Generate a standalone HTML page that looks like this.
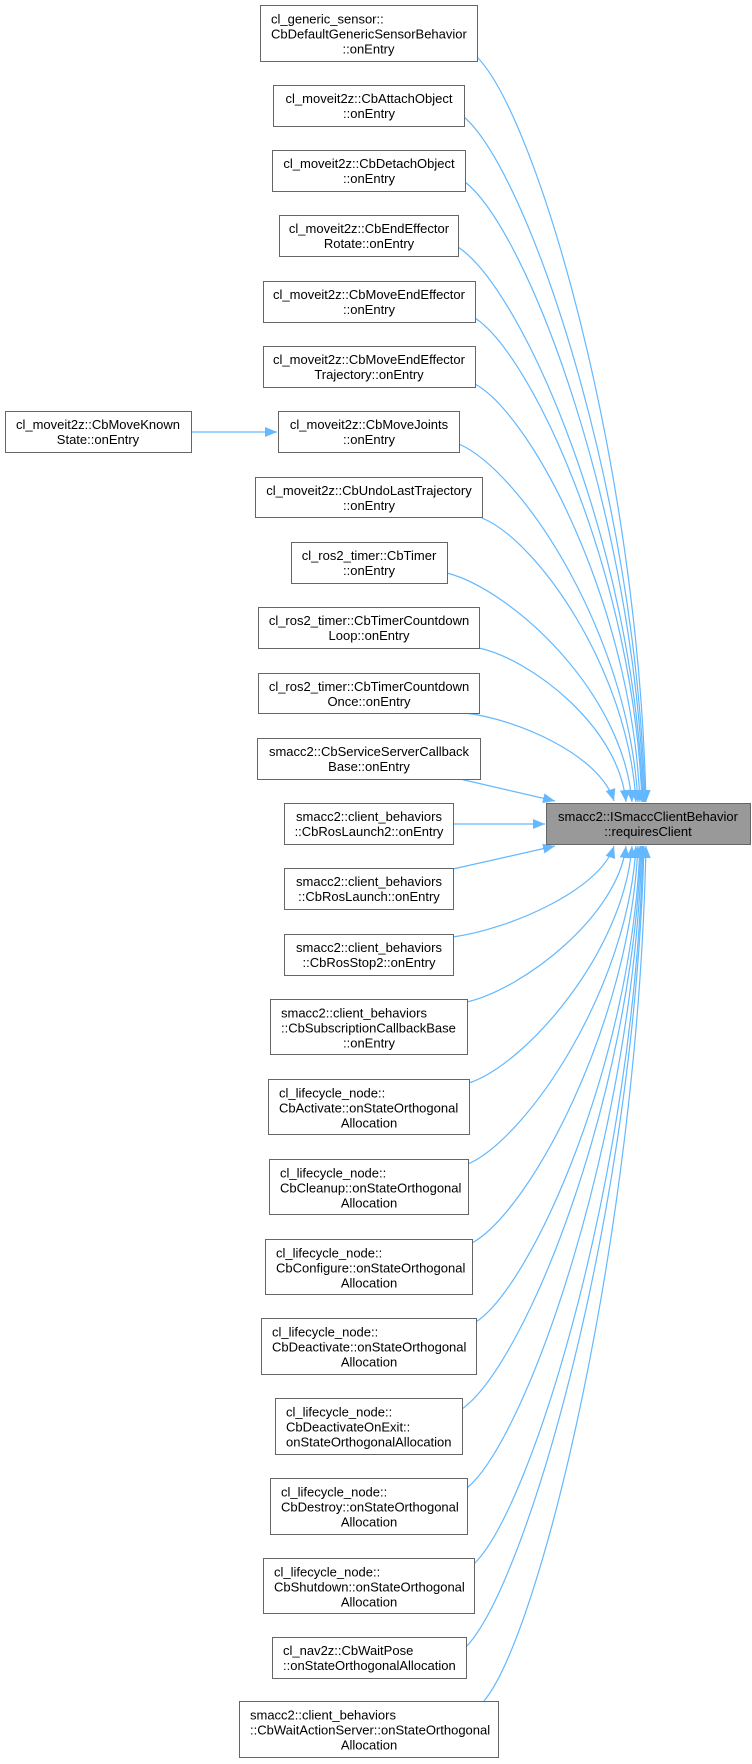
<!DOCTYPE html>
<html><head><meta charset="utf-8"><style>
html,body{margin:0;padding:0;background:#fff;}
svg{display:block;}
text{font-family:"Liberation Sans",Arial,sans-serif;font-size:13px;fill:#000;}
.b{fill:#fff;stroke:#666;stroke-width:1;}
.e{fill:none;stroke:#63b8ff;stroke-width:1.2;}
</style></head><body>
<svg width="752" height="1764" viewBox="0 0 752 1764" xmlns="http://www.w3.org/2000/svg">
<defs><marker id="a" markerUnits="userSpaceOnUse" markerWidth="13" markerHeight="11" refX="12" refY="5" orient="auto"><path d="M0,0 L12,5 L0,10 z" fill="#63b8ff"/></marker></defs>
<g class="edges">
<path class="e" marker-end="url(#a)" d="M477 57 C536 116 638 460 646 802"/>
<path class="e" marker-end="url(#a)" d="M464 117 C527 171 636 487 645 802"/>
<path class="e" marker-end="url(#a)" d="M465 182 C528 231 635 516 644 802"/>
<path class="e" marker-end="url(#a)" d="M458 247 C523 290 634 546 643 802"/>
<path class="e" marker-end="url(#a)" d="M475 318 C533 356 634 578 642 802"/>
<path class="e" marker-end="url(#a)" d="M475 384 C533 416 632 607 640 802"/>
<path class="e" marker-end="url(#a)" d="M459 444 C522 472 629 634 638 802"/>
<path class="e" marker-end="url(#a)" d="M482 518 C536 540 628 668 636 802"/>
<path class="e" marker-end="url(#a)" d="M447 573 C512 590 623 692 632 802"/>
<path class="e" marker-end="url(#a)" d="M479 648 C530 659 619 726 626 802"/>
<path class="e" marker-end="url(#a)" d="M465 713 C517 719 600 755 614 801"/>
<path class="e" marker-end="url(#a)" d="M460 779 L555 801"/>
<path class="e" marker-end="url(#a)" d="M453 824 L545 824"/>
<path class="e" marker-end="url(#a)" d="M453 869 L555 846"/>
<path class="e" marker-end="url(#a)" d="M453 937 C510 929 600 890 614 846"/>
<path class="e" marker-end="url(#a)" d="M467 1002 C523 989 618 916 626 846"/>
<path class="e" marker-end="url(#a)" d="M469 1083 C526 1064 624 952 632 846"/>
<path class="e" marker-end="url(#a)" d="M468 1164 C527 1138 628 989 636 846"/>
<path class="e" marker-end="url(#a)" d="M472 1243 C530 1211 630 1024 638 846"/>
<path class="e" marker-end="url(#a)" d="M476 1322 C533 1284 632 1060 640 846"/>
<path class="e" marker-end="url(#a)" d="M462 1409 C525 1364 632 1099 641 846"/>
<path class="e" marker-end="url(#a)" d="M467 1488 C528 1437 633 1134 642 846"/>
<path class="e" marker-end="url(#a)" d="M474 1564 C533 1506 635 1169 643 846"/>
<path class="e" marker-end="url(#a)" d="M466 1647 C528 1582 635 1206 644 846"/>
<path class="e" marker-end="url(#a)" d="M484 1701 C541 1632 638 1230 646 846"/>
<path class="e" marker-end="url(#a)" d="M191 432 L277 432"/>
</g>

<!-- boxes -->
<rect class="b" x="260.5" y="5.5" width="217" height="56"/>
<text x="271" y="23.5">cl_generic_sensor::</text>
<text x="271" y="38.5">CbDefaultGenericSensorBehavior</text>
<text x="368.5" y="53.5" text-anchor="middle">::onEntry</text>

<rect class="b" x="273.5" y="85.5" width="191" height="41"/>
<text x="369" y="103" text-anchor="middle">cl_moveit2z::CbAttachObject</text>
<text x="369" y="118" text-anchor="middle">::onEntry</text>

<rect class="b" x="272.5" y="150.5" width="193" height="41"/>
<text x="369" y="168" text-anchor="middle">cl_moveit2z::CbDetachObject</text>
<text x="369" y="183" text-anchor="middle">::onEntry</text>

<rect class="b" x="279.5" y="215.5" width="179" height="41"/>
<text x="369" y="233" text-anchor="middle">cl_moveit2z::CbEndEffector</text>
<text x="369" y="248" text-anchor="middle">Rotate::onEntry</text>

<rect class="b" x="263.5" y="281.5" width="212" height="41"/>
<text x="369" y="299" text-anchor="middle">cl_moveit2z::CbMoveEndEffector</text>
<text x="369" y="314" text-anchor="middle">::onEntry</text>

<rect class="b" x="263.5" y="346.5" width="212" height="41"/>
<text x="369" y="364" text-anchor="middle">cl_moveit2z::CbMoveEndEffector</text>
<text x="369" y="379" text-anchor="middle">Trajectory::onEntry</text>

<rect class="b" x="5.5" y="411.5" width="186" height="41"/>
<text x="98" y="429" text-anchor="middle">cl_moveit2z::CbMoveKnown</text>
<text x="98" y="444" text-anchor="middle">State::onEntry</text>

<rect class="b" x="278.5" y="411.5" width="181" height="41"/>
<text x="369" y="429" text-anchor="middle">cl_moveit2z::CbMoveJoints</text>
<text x="369" y="444" text-anchor="middle">::onEntry</text>

<rect class="b" x="255.5" y="477.5" width="227" height="40"/>
<text x="369" y="495" text-anchor="middle">cl_moveit2z::CbUndoLastTrajectory</text>
<text x="369" y="510" text-anchor="middle">::onEntry</text>

<rect class="b" x="291.5" y="542.5" width="156" height="41"/>
<text x="369" y="560" text-anchor="middle">cl_ros2_timer::CbTimer</text>
<text x="369" y="575" text-anchor="middle">::onEntry</text>

<rect class="b" x="258.5" y="607.5" width="221" height="41"/>
<text x="369" y="625" text-anchor="middle">cl_ros2_timer::CbTimerCountdown</text>
<text x="369" y="640" text-anchor="middle">Loop::onEntry</text>

<rect class="b" x="258.5" y="673.5" width="221" height="40"/>
<text x="369" y="691" text-anchor="middle">cl_ros2_timer::CbTimerCountdown</text>
<text x="369" y="706" text-anchor="middle">Once::onEntry</text>

<rect class="b" x="257.5" y="738.5" width="223" height="41"/>
<text x="369" y="756" text-anchor="middle">smacc2::CbServiceServerCallback</text>
<text x="369" y="771" text-anchor="middle">Base::onEntry</text>

<rect class="b" x="284.5" y="803.5" width="169" height="41"/>
<text x="369" y="821" text-anchor="middle">smacc2::client_behaviors</text>
<text x="369" y="836" text-anchor="middle">::CbRosLaunch2::onEntry</text>

<rect x="546.5" y="803.5" width="204" height="41" fill="#999" stroke="#666"/>
<text x="648" y="821" text-anchor="middle">smacc2::ISmaccClientBehavior</text>
<text x="648" y="836" text-anchor="middle">::requiresClient</text>

<rect class="b" x="284.5" y="868.5" width="169" height="41"/>
<text x="369" y="886" text-anchor="middle">smacc2::client_behaviors</text>
<text x="369" y="901" text-anchor="middle">::CbRosLaunch::onEntry</text>

<rect class="b" x="284.5" y="934.5" width="169" height="41"/>
<text x="369" y="952" text-anchor="middle">smacc2::client_behaviors</text>
<text x="369" y="967" text-anchor="middle">::CbRosStop2::onEntry</text>

<rect class="b" x="270.5" y="999.5" width="197" height="55"/>
<text x="281" y="1017.5">smacc2::client_behaviors</text>
<text x="281" y="1032.5">::CbSubscriptionCallbackBase</text>
<text x="369" y="1047.5" text-anchor="middle">::onEntry</text>

<rect class="b" x="268.5" y="1079.5" width="201" height="55"/>
<text x="279" y="1097.5">cl_lifecycle_node::</text>
<text x="279" y="1112.5">CbActivate::onStateOrthogonal</text>
<text x="369" y="1127.5" text-anchor="middle">Allocation</text>

<rect class="b" x="269.5" y="1159.5" width="199" height="55"/>
<text x="280" y="1177.5">cl_lifecycle_node::</text>
<text x="280" y="1192.5">CbCleanup::onStateOrthogonal</text>
<text x="369" y="1207.5" text-anchor="middle">Allocation</text>

<rect class="b" x="265.5" y="1239.5" width="207" height="55"/>
<text x="276" y="1257.5">cl_lifecycle_node::</text>
<text x="276" y="1272.5">CbConfigure::onStateOrthogonal</text>
<text x="369" y="1287.5" text-anchor="middle">Allocation</text>

<rect class="b" x="261.5" y="1318.5" width="215" height="56"/>
<text x="272" y="1336.5">cl_lifecycle_node::</text>
<text x="272" y="1351.5">CbDeactivate::onStateOrthogonal</text>
<text x="369" y="1366.5" text-anchor="middle">Allocation</text>

<rect class="b" x="275.5" y="1398.5" width="187" height="56"/>
<text x="286" y="1416.5">cl_lifecycle_node::</text>
<text x="286" y="1431.5">CbDeactivateOnExit::</text>
<text x="286" y="1446.5">onStateOrthogonalAllocation</text>

<rect class="b" x="270.5" y="1478.5" width="197" height="56"/>
<text x="281" y="1496.5">cl_lifecycle_node::</text>
<text x="281" y="1511.5">CbDestroy::onStateOrthogonal</text>
<text x="369" y="1526.5" text-anchor="middle">Allocation</text>

<rect class="b" x="263.5" y="1558.5" width="211" height="55"/>
<text x="274" y="1576.5">cl_lifecycle_node::</text>
<text x="274" y="1591.5">CbShutdown::onStateOrthogonal</text>
<text x="369" y="1606.5" text-anchor="middle">Allocation</text>

<rect class="b" x="272.5" y="1637.5" width="194" height="41"/>
<text x="283" y="1655">cl_nav2z::CbWaitPose</text>
<text x="283" y="1670">::onStateOrthogonalAllocation</text>

<rect class="b" x="239.5" y="1701.5" width="259" height="56"/>
<text x="250" y="1719.5">smacc2::client_behaviors</text>
<text x="250" y="1734.5">::CbWaitActionServer::onStateOrthogonal</text>
<text x="369" y="1749.5" text-anchor="middle">Allocation</text>
</svg>
</body></html>
